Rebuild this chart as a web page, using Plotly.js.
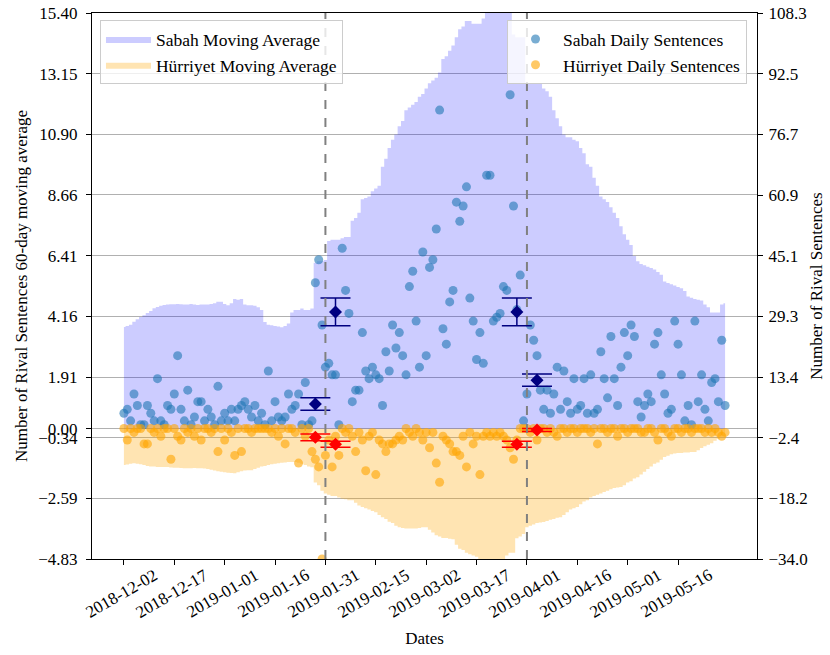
<!DOCTYPE html>
<html><head><meta charset="utf-8">
<script src="https://cdn.plot.ly/plotly-3.0.1.min.js"></script>
<style>html,body{margin:0;padding:0;background:#fff}#chart{width:830px;height:655px}</style>
</head><body><div id="chart"></div>
<script>
// ---- data (one value per day starting 2018-12-02) ----
const startDate = '2018-12-02';

const sabahMA = [
 3.77,3.80,3.85,3.96,4.05,4.14,4.20,4.28,4.36,4.46,
 4.51,4.55,4.58,4.60,4.61,4.61,4.62,4.61,4.60,4.60,
 4.62,4.60,4.58,4.60,4.60,4.60,4.62,4.65,4.70,4.70,
 4.62,4.57,4.65,4.80,4.78,4.80,4.60,4.57,4.57,4.55,
 4.50,4.40,3.95,3.85,3.83,3.80,3.78,3.76,3.80,3.90,
 4.30,4.40,4.40,4.45,4.40,4.40,4.45,6.15,6.20,6.20,
 6.25,6.95,7.00,7.00,7.00,7.05,7.10,7.10,7.70,7.80,
 8.00,8.50,8.55,8.60,8.80,8.90,9.00,9.70,10.00,10.40,
 10.70,10.90,11.20,11.40,11.80,11.90,12.00,12.10,12.30,12.40,
 12.60,12.80,12.90,13.00,13.20,13.70,13.80,14.00,14.20,14.50,
 14.80,14.90,15.10,15.10,15.00,15.00,15.00,15.20,15.50,15.70,
 15.80,15.90,16.00,16.00,16.10,16.00,14.60,14.50,14.50,14.50,
 12.80,12.80,12.80,12.80,12.80,12.60,12.50,12.30,11.80,11.50,
 11.20,10.90,10.80,10.80,10.70,10.65,10.40,10.20,9.80,9.70,
 9.30,9.00,8.60,8.50,8.40,8.20,8.00,7.80,7.50,7.20,
 7.00,6.80,6.40,6.20,6.10,6.05,6.00,5.95,5.90,5.80,
 5.70,5.45,5.40,5.35,5.30,5.25,5.20,5.10,4.90,4.85,
 4.80,4.78,4.75,4.60,4.50,4.30,4.30,4.30,4.60,4.65
];

const hurriyetMA = [
 -1.35,-1.33,-1.30,-1.28,-1.30,-1.32,-1.35,-1.38,-1.40,-1.40,
 -1.42,-1.42,-1.42,-1.42,-1.44,-1.45,-1.45,-1.46,-1.47,-1.47,
 -1.47,-1.46,-1.47,-1.47,-1.48,-1.50,-1.52,-1.55,-1.58,-1.60,
 -1.62,-1.63,-1.64,-1.65,-1.62,-1.58,-1.55,-1.54,-1.54,-1.50,
 -1.45,-1.40,-1.38,-1.35,-1.32,-1.30,-1.28,-1.26,-1.25,-1.24,
 -1.24,-1.24,-1.26,-1.30,-1.35,-1.40,-1.43,-2.00,-2.10,-2.30,
 -2.40,-2.45,-2.50,-2.50,-2.55,-2.60,-2.62,-2.65,-2.65,-2.75,
 -2.85,-2.90,-2.95,-3.00,-3.05,-3.10,-3.20,-3.28,-3.35,-3.45,
 -3.50,-3.60,-3.65,-3.68,-3.70,-3.70,-3.70,-3.70,-3.68,-3.65,
 -3.65,-3.75,-3.85,-3.95,-4.00,-4.05,-4.05,-4.08,-4.10,-4.30,
 -4.45,-4.50,-4.60,-4.65,-4.70,-4.75,-4.90,-4.90,-4.90,-4.90,
 -4.90,-4.90,-4.90,-4.90,-4.70,-4.60,-4.60,-4.06,-4.00,-3.90,
 -3.65,-3.60,-3.55,-3.50,-3.48,-3.46,-3.42,-3.38,-3.35,-3.30,
 -3.28,-3.20,-3.10,-3.00,-2.95,-2.90,-2.80,-2.70,-2.65,-2.55,
 -2.50,-2.45,-2.40,-2.35,-2.30,-2.25,-2.20,-2.18,-2.16,-2.10,
 -2.00,-1.95,-1.85,-1.80,-1.70,-1.60,-1.50,-1.40,-1.30,-1.25,
 -1.15,-1.05,-1.00,-0.95,-0.92,-0.90,-0.90,-0.88,-0.88,-0.87,
 -0.87,-0.80,-0.72,-0.65,-0.60,-0.54,-0.45,-0.38,-0.31,-0.28
];

const sabahDaily = [
 4,5,2,9,6,1,1,6,4,2,
 13,2,1,6,5,9,19,5,2,10,
 1,3,7,7,2,5,3,1,11,2,
 4,2,5,2,5,6,7,5,3,6,
 2,4,1,15,2,7,3,2,3,9,
 5,6,9,1,12,1,2,38,44,27,
 16,17,14,14,1,47,36,30,7,10,
 10,25,15,13,16,14,13,6,20,15,
 27,21,25,19,14,37,41,28,16,46,
 19,42,44,52,83,26,22,33,36,59,
 54,58,63,34,28,18,25,17,66,66,
 28,29,30,37,36,87,58,31,40,2,
 9,27,23,19,10,5,10,4,9,16,
 5,15,7,4,13,5,6,13,4,14,
 4,5,20,13,8,24,13,6,16,25,
 19,27,24,7,3,6,9,7,22,25,
 14,9,4,5,28,22,14,2,6,1,
 28,7,14,5,2,12,13,7,23,6
];

const hurriyetDaily = [
 0,-3,0,-1,0,0,-4,-4,0,-1,
 0,-2,0,0,-8,0,-2,-3,0,-1,
 0,-2,0,-3,0,0,-1,0,-6,0,
 -3,0,-1,-7,0,-6,0,0,-1,0,
 0,0,0,0,-1,0,-2,0,-4,0,
 0,-1,-9,0,-2,0,-6,-8,-10,-34,
 -7,-3,-10,-2,-7,0,-1,0,-2,-6,
 -1,-3,-11,-2,-1,-12,-3,-4,-6,-4,
 -4,-3,-2,-3,0,-1,-2,0,-1,-3,
 -1,-5,-1,-9,-14,-2,-3,-4,-6,-6,
 -7,-2,-10,-1,-4,-2,-12,-2,-1,-2,
 -1,-2,-1,-2,-3,-5,-8,-3,0,0,
 0,-1,0,-3,0,0,-1,0,-1,-2,
 0,0,-1,0,0,-1,0,0,0,-1,
 0,-4,0,0,-1,0,0,-2,0,0,
 -1,0,0,0,-1,-1,0,0,-1,-3,
 0,0,-1,-2,0,0,-1,0,0,-1,
 0,0,0,-1,0,-1,0,-1,-2,-1
];

const eventDates = ['2019-01-31', '2019-04-01'];
const summaryDates = ['2019-01-28', '2019-02-03', '2019-03-29', '2019-04-04'];
const sabahMeans = [6.4, 30.4, 30.4, 12.6];
const sabahErr = [1.6, 3.6, 3.6, 1.6];
const hurriyetMeans = [-2.3, -4.1, -4.1, -0.4];
const hurriyetErr = [0.9, 0.8, 0.8, 0.4];

const xTickDates = ['2018-12-02','2018-12-17','2019-01-01','2019-01-16','2019-01-31','2019-02-15',
                    '2019-03-02','2019-03-17','2019-04-01','2019-04-16','2019-05-01','2019-05-16'];
const leftTickVals = [-4.83,-2.582,-0.334,0,1.913,4.161,6.409,8.657,10.904,13.152,15.40];
const leftTickText = ['\u22124.83','\u22122.59','\u22120.34','0.00','1.91','4.16','6.41','8.66','10.90','13.15','15.40'];
const rightTickVals = [-34.0,-18.189,-2.378,13.433,29.244,45.056,60.867,76.678,92.489,108.3];
const rightTickText = ['\u221234.0','\u221218.2','\u22122.4','13.4','29.3','45.1','60.9','76.7','92.5','108.3'];

// ---- build ----
function dayToDate(i){
  const d = new Date(startDate + 'T00:00:00Z');
  d.setUTCDate(d.getUTCDate() + i);
  return d.toISOString().slice(0,10);
}
const dates = sabahMA.map((_, i) => dayToDate(i));

const FONT = 'Liberation Serif';

const traces = [
  {x: dates, y: sabahMA, type:'scatter', mode:'lines', name:'Sabah Moving Average',
   line:{shape:'hvh', width:0, color:'rgba(0,0,255,0.2)'}, fill:'tozeroy', fillcolor:'rgba(0,0,255,0.2)',
   legend:'legend', hoverinfo:'skip'},
  {x: dates, y: hurriyetMA, type:'scatter', mode:'lines', name:'Hürriyet Moving Average',
   line:{shape:'hvh', width:0, color:'rgba(255,165,0,0.3)'}, fill:'tozeroy', fillcolor:'rgba(255,165,0,0.3)',
   legend:'legend', hoverinfo:'skip'},
  {x: dates, y: sabahDaily, type:'scatter', mode:'markers', name:'Sabah Daily Sentences', yaxis:'y2',
   marker:{color:'rgba(31,119,180,0.6)', size:9}, legend:'legend2'},
  {x: dates, y: hurriyetDaily, type:'scatter', mode:'markers', name:'Hürriyet Daily Sentences', yaxis:'y2',
   marker:{color:'rgba(255,165,0,0.6)', size:9}, legend:'legend2'},
  {x: summaryDates, y: sabahMeans, type:'scatter', mode:'markers', yaxis:'y2', showlegend:false,
   marker:{symbol:'diamond', size:10, color:'#000080'},
   error_y:{type:'data', array:sabahErr, visible:true, color:'#000080', thickness:1.5, width:15}},
  {x: summaryDates, y: hurriyetMeans, type:'scatter', mode:'markers', yaxis:'y2', showlegend:false,
   marker:{symbol:'diamond', size:10, color:'red'},
   error_y:{type:'data', array:hurriyetErr, visible:true, color:'red', thickness:1.5, width:15}}
];

const annotations = xTickDates.map(d => ({
  x: d, xref:'x', y:-0.0635, yref:'paper', text:d, showarrow:false, textangle:-30,
  xanchor:'center', yanchor:'middle', xshift:-2, font:{family:FONT, size:17, color:'#000'}
}));

const shapes = eventDates.map(d => ({
  type:'line', xref:'x', yref:'paper', x0:d, x1:d, y0:0, y1:1,
  line:{color:'gray', width:2, dash:'dash'}, layer:'above'
}));

const layout = {
  width:830, height:655,
  margin:{l:92, r:73, t:13, b:96},
  paper_bgcolor:'#fff', plot_bgcolor:'#fff',
  font:{family:FONT, size:17, color:'#000'},
  showlegend:true,
  xaxis:{type:'date', range:['2018-11-22 12:00','2019-06-08 12:00'],
         tickvals:xTickDates, showticklabels:false, ticks:'outside', ticklen:5, tickcolor:'#000',
         showgrid:false, zeroline:false, showline:true, mirror:true, linecolor:'#000', linewidth:1,
         title:{text:'Dates', standoff:68, font:{family:FONT, size:17}}},
  yaxis:{range:[-4.83,15.40], tickvals:leftTickVals, ticktext:leftTickText,
         ticks:'outside', ticklen:5, tickcolor:'#000', showgrid:true, gridcolor:'#b0b0b0', gridwidth:1,
         zeroline:false, showline:true, linecolor:'#000', linewidth:1, ticklabelstandoff:5,
         tickfont:{family:FONT, size:17},
         title:{text:'Number of Rival Sentences 60-day moving average', standoff:6, font:{family:FONT, size:17}}},
  yaxis2:{range:[-34.0,108.3], overlaying:'y', side:'right', tickvals:rightTickVals, ticktext:rightTickText,
         ticks:'outside', ticklen:5, tickcolor:'#000', showgrid:false, zeroline:false, ticklabelstandoff:2,
         showline:true, linecolor:'#000', linewidth:1, tickfont:{family:FONT, size:17},
         title:{text:'Number of Rival Sentences', standoff:3, font:{family:FONT, size:17}}},
  legend:{x:0.012, y:0.987, xanchor:'left', yanchor:'top', bgcolor:'rgba(255,255,255,0.8)',
          bordercolor:'#cccccc', borderwidth:1, itemwidth:45, font:{family:FONT, size:17.5}},
  legend2:{x:0.985, y:0.987, xanchor:'right', yanchor:'top', bgcolor:'rgba(255,255,255,0.8)',
          bordercolor:'#cccccc', borderwidth:1, itemwidth:45, font:{family:FONT, size:17.5}},
  annotations: annotations,
  shapes: shapes,
  hovermode:false
};

Plotly.newPlot('chart', traces, layout, {displayModeBar:false, staticPlot:true});
</script>
</body></html>
